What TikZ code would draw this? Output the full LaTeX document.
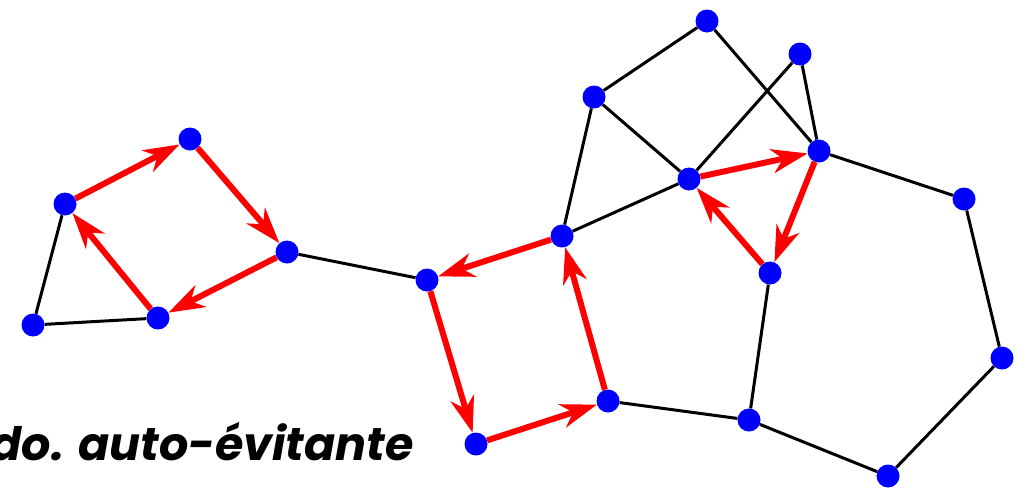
\documentclass[tikz,border=0pt]{standalone}
\usepackage{fontspec}
\newfontfamily\labelfont{Poppins}
\usetikzlibrary{arrows.meta}
\tikzset{
  vtx/.style={circle,fill=blue,inner sep=0pt,minimum size=23pt},
  edge/.style={line width=3pt,black},
  walk/.style={line width=6pt,red,-{Stealth[length=36pt,width=24pt,inset=11pt]}},
}
\begin{document}
\begin{tikzpicture}[x=1pt,y=-1pt]
\useasboundingbox (0,0) rectangle (1033,491);
\node[vtx] (A) at (33,325) {};
\node[vtx] (B) at (65,204) {};
\node[vtx] (C) at (190,139) {};
\node[vtx] (D) at (287,252) {};
\node[vtx] (E) at (158,318) {};
\node[vtx] (F) at (427,280) {};
\node[vtx] (G) at (562,236) {};
\node[vtx] (H) at (594,97) {};
\node[vtx] (I) at (707,21) {};
\node[vtx] (J) at (800,54) {};
\node[vtx] (K) at (819,151) {};
\node[vtx] (L) at (689,179) {};
\node[vtx] (M) at (770,273) {};
\node[vtx] (N) at (964,199) {};
\node[vtx] (O) at (1002,358) {};
\node[vtx] (P) at (888,476) {};
\node[vtx] (Q) at (749,420) {};
\node[vtx] (R) at (608,401) {};
\node[vtx] (S) at (476,444) {};
\foreach \a/\b in {A/B,A/E,D/F,G/H,G/L,H/I,H/L,I/K,J/L,J/K,K/N,N/O,O/P,P/Q,Q/R,Q/M}
  \draw[edge] (\a) -- (\b);
\foreach \a/\b in {B/C,C/D,D/E,E/B,G/F,F/S,S/R,R/G,L/K,K/M,M/L}
  \draw[walk] (\a) -- (\b);
\node[anchor=base east,inner sep=0pt,font=\labelfont\bfseries\itshape\fontsize{46}{52}\selectfont] (T) at (414,460) {do. auto-évitante};
\end{tikzpicture}
\end{document}
